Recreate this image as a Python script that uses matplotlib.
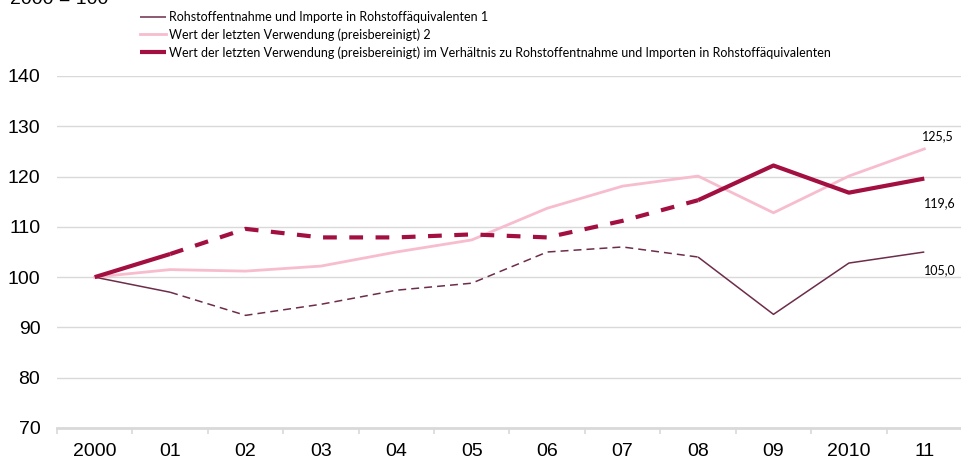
import matplotlib
matplotlib.use("Agg")
from matplotlib import pyplot as plt
from matplotlib import ticker as mticker

years = ["2000", "01", "02", "03", "04", "05", "06", "07", "08", "09", "2010", "11"]

rohstoff = [100.0, 97.0, 92.4, 94.6, 97.4, 98.8, 105.0, 106.0, 104.0, 92.6, 102.8, 105.0]
verwendung = [100.0, 101.5, 101.2, 102.2, 105.0, 107.4, 113.7, 118.1, 120.1, 112.8, 120.1, 125.5]
verhaeltnis = [100.0, 104.6, 109.6, 107.9, 107.9, 108.5, 107.9, 111.2, 115.3, 122.2, 116.8, 119.6]

labels = [
    "Rohstoffentnahme und Importe in Rohstoffäquivalenten 1",
    "Wert der letzten Verwendung (preisbereinigt) 2",
    "Wert der letzten Verwendung (preisbereinigt) im Verhältnis zu Rohstoffentnahme und Importen in Rohstoffäquivalenten",
]
end_labels = ["105,0", "125,5", "119,6"]

c_dark = "#6d2c4a"
c_pink = "#f7bccd"
c_red = "#a20f40"

fig = plt.figure(figsize=(9.62, 4.59), dpi=100)
ax = fig.add_axes([57 / 962, 1 - 428 / 459, 1 - 57 / 962, (428 - 76) / 459])

x = list(range(len(years)))
# solid 2000-01, dashed 01-08, solid 08-11
def draw(vals, color, lw, dashes, label):
    ax.plot(x[:2], vals[:2], color=color, lw=lw, solid_capstyle="butt", label=label)
    ax.plot(x[1:9], vals[1:9], color=color, lw=lw, dashes=dashes, dash_capstyle="butt")
    ax.plot(x[8:], vals[8:], color=color, lw=lw, solid_capstyle="butt")

draw(rohstoff, c_dark, 1.1, (5.2, 3.3), labels[0])
ax.plot(x, verwendung, color=c_pink, lw=2.0, label=labels[1])
draw(verhaeltnis, c_red, 3.0, (3.3, 3.0), labels[2])

lab_font = dict(ha="center", va="center", fontsize=9, family="Lato")
ax.annotate(end_labels[1], (x[-1], verwendung[-1]), xytext=(10, 9), textcoords="offset points", **lab_font)
ax.annotate(end_labels[2], (x[-1], verhaeltnis[-1]), xytext=(11, -18), textcoords="offset points", **lab_font)
ax.annotate(end_labels[0], (x[-1], rohstoff[-1]), xytext=(11, -13), textcoords="offset points", **lab_font)

ax.set_xlim(-0.5, len(years) - 0.5)
ax.set_ylim(70, 140)
ax.set_xticks(x)
ax.set_xticklabels(years)
ax.xaxis.set_minor_locator(mticker.FixedLocator([i - 0.5 for i in range(len(years) + 1)]))
ax.set_yticks(range(70, 141, 10))
ax.tick_params(axis="x", which="major", length=0, pad=10.5, labelsize=14)
ax.tick_params(axis="x", which="minor", length=4, width=1.2, color="#d9d9d9")
ax.tick_params(axis="y", length=0, pad=12, labelsize=14)
for lab in ax.get_xticklabels() + ax.get_yticklabels():
    lab.set_family("Liberation Sans")

ax.grid(axis="y", color="#d9d9d9", lw=1)
ax.set_axisbelow(True)
for s in ["top", "right", "left"]:
    ax.spines[s].set_visible(False)
ax.spines["bottom"].set_color("#d9d9d9")
ax.spines["bottom"].set_linewidth(2)

fig.text(10 / 962, 1 - 3.5 / 459, "2000 = 100", fontsize=14, family="Liberation Sans", va="baseline")

fig.legend(loc="upper left", bbox_to_anchor=(140 / 962, 1 - 11 / 459), frameon=False,
           prop={"family": "Lato", "size": 9}, handlelength=2.1,
           handletextpad=0.25, labelspacing=0.42, borderpad=0, borderaxespad=0)

fig.savefig("out.png", dpi=100)
plt.close(fig)
